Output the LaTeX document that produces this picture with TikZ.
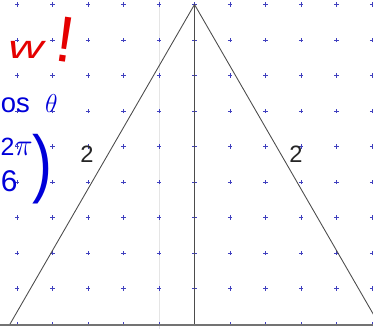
\documentclass[tikz,border=0pt]{standalone}
\usepackage{fontspec}
\setmainfont{Liberation Sans}
\usepackage{tikz}
\usetikzlibrary{calc,positioning}

\begin{document}
\begin{tikzpicture}[
  griddot/.style={draw=blue!50!gray, line width=0.6pt},
  side/.style={draw=black!70, line width=0.7pt},
  side label/.style={font=\fontsize{19}{20}\selectfont, text=black!85, inner sep=0pt},
  redink/.style={text=red!90!black, font=\bfseries, inner sep=0pt},
  blueink/.style={text=blue!85!black, font=\bfseries\boldmath, inner sep=0pt}
]
  \useasboundingbox (-0.479,-0.113) rectangle (10.028,9.127);
  \clip (-0.479,-0.113) rectangle (10.028,9.127);
  % background grid
  \draw[black!10, line width=0.4pt] (4,-0.2) -- (4,9.2);
  \foreach \i in {0,...,10}
    \foreach \j in {0,...,9}
      \draw[griddot] (\i-0.06,\j) -- (\i+0.06,\j) (\i,\j-0.06) -- (\i,\j+0.06);
  \draw[black!55, line width=1.3pt] (-0.6,-0.02) -- (10.2,-0.02);
  % triangle with height
  \coordinate (A) at (5,9);
  \coordinate (L) at (-0.196,0);
  \coordinate (R) at (10.196,0);
  \coordinate (M) at (5,0);
  \draw[side] (L) -- (A) -- (R);
  \draw[side, line width=0.9pt] (A) -- (M);
  \node[side label] (leftlab) at (1.97,4.79) {2};
  \node[side label] (rightlab) at (7.86,4.79) {2};
  % handwritten notes
  \node[redink, font=\fontsize{26}{26}\selectfont\itshape, xscale=1.5] (wnote) at (0.25,7.72) {w};
  \node[redink, font=\fontsize{52}{52}\selectfont, rotate=-8] (bang) at (1.36,8.0) {!};
  \node[blueink, font=\fontsize{22}{22}\selectfont, anchor=west] (costh) at (-0.46,6.22) {os\ \ $\theta$};
  \node[blueink, font=\fontsize{20}{20}\selectfont, anchor=west] (twopi) at (-0.47,5.0) {2$\scalebox{1.2}{$\pi$}$};
  \node[blueink, font=\fontsize{24}{24}\selectfont, anchor=west] (six) at (-0.46,4.02) {6};
  \node[blueink, font=\fontsize{60}{60}\selectfont, xscale=0.8] (paren) at (0.72,4.35) {)};
\end{tikzpicture}
\end{document}
